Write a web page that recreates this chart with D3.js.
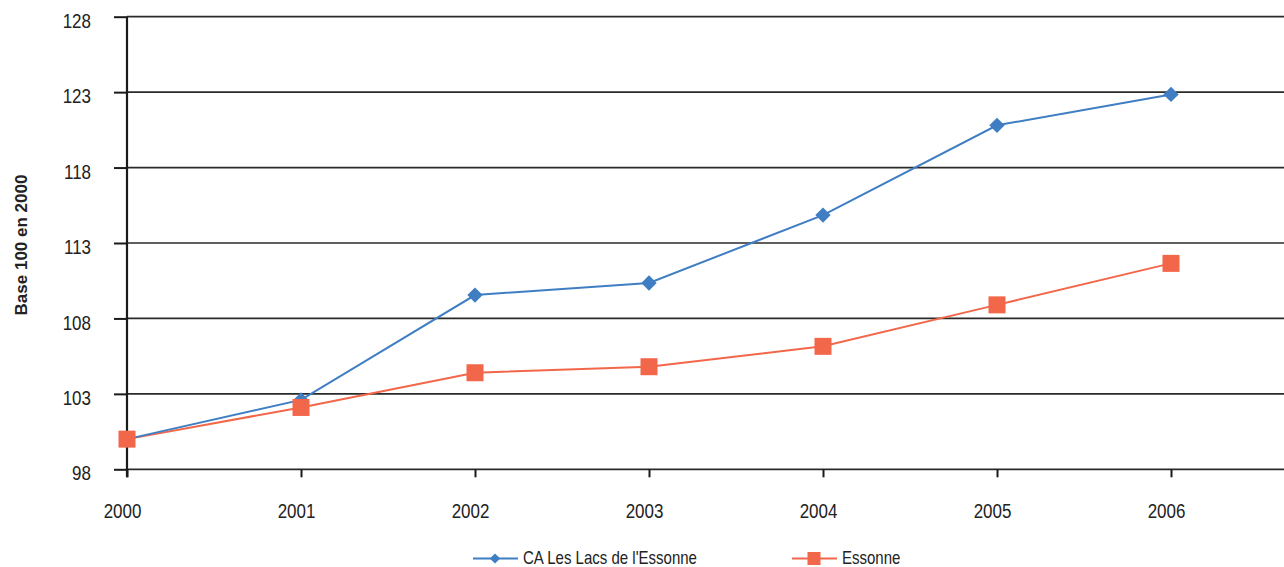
<!DOCTYPE html>
<html>
<head>
<meta charset="utf-8">
<script src="https://cdn.jsdelivr.net/npm/d3@7"></script>
<style>
  html, body { margin: 0; padding: 0; background: #fff; }
  svg { display: block; }
  text { font-family: "Liberation Sans", Arial, sans-serif; fill: #222; }
</style>
</head>
<body>
<svg id="chart" width="1284" height="567"></svg>
<script>
// Index values, base 100 in 2000
const years = [2000, 2001, 2002, 2003, 2004, 2005, 2006];
const caLesLacs = [100, 102.6, 109.55, 110.35, 114.85, 120.8, 122.85];
const essonne = [100, 102.1, 104.4, 104.8, 106.15, 108.9, 111.65];
const yTicks = [98, 103, 108, 113, 118, 123, 128];
const seriesNames = ["CA Les Lacs de l'Essonne", "Essonne"];

const svg = d3.select("#chart");
const W = 1284;

const x = d3.scaleLinear().domain([2000, 2006]).range([127, 1171]);
const y = d3.scaleLinear().domain([98, 128]).range([469.3, 16.7]);

const blue = "#3f7ec3";
const orange = "#f2674a";

// narrow the Helvetica-like face to a condensed width
function condense(sel, k) {
  sel.each(function () {
    const w = this.getComputedTextLength();
    d3.select(this).attr("textLength", w * k).attr("lengthAdjust", "spacingAndGlyphs");
  });
}

// horizontal gridlines
svg.append("g")
  .selectAll("line")
  .data(yTicks)
  .join("line")
  .attr("x1", x(2000)).attr("x2", W)
  .attr("y1", d => y(d)).attr("y2", d => y(d))
  .attr("stroke", "#2a2a2a")
  .attr("stroke-width", 1.7);

// y axis
const yAxis = d3.axisLeft(y).tickValues(yTicks).tickSize(13).tickPadding(23).tickFormat(d3.format("d"));
const gy = svg.append("g").attr("transform", `translate(${x(2000)},0)`).call(yAxis);
gy.select(".domain").remove();
gy.selectAll(".tick line").attr("stroke", "#1a1a1a").attr("stroke-width", 2);
gy.selectAll(".tick text").attr("font-size", 19.5).attr("y", 10.6).attr("dy", 0).call(condense, 0.87);
svg.append("line")
  .attr("x1", x(2000)).attr("x2", x(2000))
  .attr("y1", y(128)).attr("y2", y(98) + 8)
  .attr("stroke", "#1a1a1a").attr("stroke-width", 2.2);

// x axis
const xAxis = d3.axisBottom(x).tickValues(years).tickSize(8).tickFormat(d3.format("d"));
const gx = svg.append("g").attr("transform", `translate(0,${y(98)})`).call(xAxis);
gx.select(".domain").remove();
gx.selectAll(".tick line").attr("stroke", "#1a1a1a").attr("stroke-width", 2);
gx.selectAll(".tick text").attr("font-size", 19.5).attr("y", 48.7).attr("dy", 0).attr("dx", -5).call(condense, 0.87);

// y axis title
svg.append("text")
  .attr("transform", `translate(27,245) rotate(-90)`)
  .attr("text-anchor", "middle")
  .attr("font-size", 17)
  .attr("font-weight", "bold")
  .text("Base 100 en 2000");

const line = d3.line().x((d, i) => x(years[i])).y(d => y(d));

// Essonne series (drawn first, under the blue series)
svg.append("path").datum(essonne)
  .attr("d", line).attr("fill", "none")
  .attr("stroke", orange).attr("stroke-width", 2);

svg.append("path").datum(caLesLacs)
  .attr("d", line).attr("fill", "none")
  .attr("stroke", blue).attr("stroke-width", 2);

const diamond = d3.symbol().type(d3.symbolDiamond2).size(150);
svg.append("g").selectAll("path")
  .data(caLesLacs)
  .join("path")
  .attr("d", diamond)
  .attr("transform", (d, i) => `translate(${x(years[i])},${y(d)})`)
  .attr("fill", blue);

svg.append("g").selectAll("rect")
  .data(essonne)
  .join("rect")
  .attr("x", (d, i) => x(years[i]) - 8.5)
  .attr("y", d => y(d) - 8.5)
  .attr("width", 17).attr("height", 17)
  .attr("fill", orange);

// legend
const legend = [
  { name: seriesNames[0], color: blue, x0: 473, marker: "diamond" },
  { name: seriesNames[1], color: orange, x0: 792, marker: "square" }
];
const lg = svg.append("g").attr("transform", "translate(0,558.5)");
legend.forEach(item => {
  lg.append("line").attr("x1", item.x0).attr("x2", item.x0 + 45)
    .attr("y1", 0).attr("y2", 0).attr("stroke", item.color).attr("stroke-width", 2);
  if (item.marker === "diamond") {
    lg.append("path").attr("d", d3.symbol().type(d3.symbolDiamond2).size(66))
      .attr("transform", `translate(${item.x0 + 22},0)`).attr("fill", item.color);
  } else {
    lg.append("rect").attr("x", item.x0 + 22 - 6.5).attr("y", -6.5)
      .attr("width", 13).attr("height", 13).attr("fill", item.color);
  }
  lg.append("text").attr("x", item.x0 + 50).attr("y", 5.5)
    .attr("font-size", 19).text(item.name).call(condense, 0.79);
});
</script>
</body>
</html>
